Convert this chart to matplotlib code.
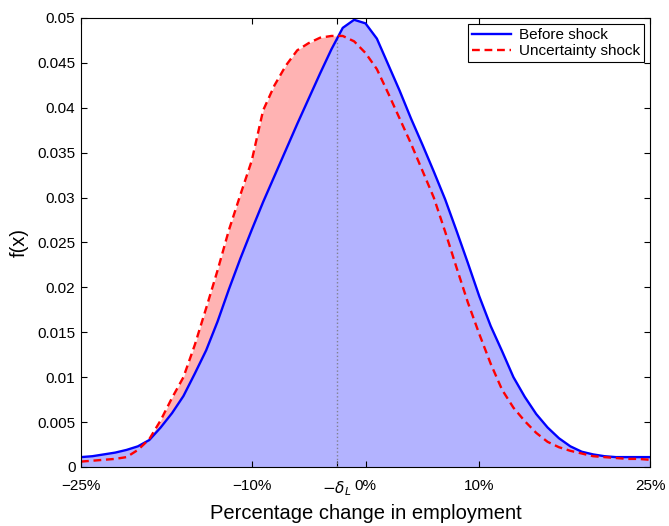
import numpy as np
import matplotlib
matplotlib.use('Agg')
import matplotlib.pyplot as plt

plt.rcParams['font.family'] = ['Liberation Sans', 'DejaVu Sans']

# percentage change in employment
x = np.arange(-25, 26)

before = [0.0011, 0.0012, 0.0014, 0.0016, 0.0019, 0.0023, 0.0030, 0.0044,
          0.0060, 0.0079, 0.0104, 0.0130, 0.0162, 0.0198, 0.0232, 0.0264,
          0.0295, 0.0324, 0.0353, 0.0382, 0.0410, 0.0438, 0.0465, 0.0489,
          0.0498, 0.0494, 0.0477, 0.0448, 0.0419, 0.0388, 0.0359, 0.0329,
          0.0298, 0.0263, 0.0227, 0.0190, 0.0157, 0.0129, 0.0100, 0.0078,
          0.0059, 0.0044, 0.0032, 0.0023, 0.0017, 0.0014, 0.0012, 0.0011,
          0.0011, 0.0011, 0.0011]

shock = [0.0006, 0.0007, 0.0008, 0.0009, 0.0011, 0.0019, 0.0031, 0.0052,
         0.0077, 0.0100, 0.0136, 0.0177, 0.0219, 0.0264, 0.0303, 0.0341,
         0.0397, 0.0425, 0.0447, 0.0464, 0.0472, 0.0478, 0.0480, 0.0480,
         0.0474, 0.0461, 0.0443, 0.0416, 0.0388, 0.0360, 0.0330, 0.0300,
         0.0262, 0.0222, 0.0183, 0.0148, 0.0115, 0.0086, 0.0066, 0.0051,
         0.0038, 0.0028, 0.0022, 0.0018, 0.0015, 0.0012, 0.0011, 0.0010,
         0.0009, 0.0009, 0.0008]

delta_l = -2.5
xticks = [-25, -10, delta_l, 0, 10, 25]
xticklabels = ['\u221225%', '\u221210%', r'$-\delta_L$', '0%', '10%', '25%']
yticks = np.arange(0, 0.0501, 0.005)
yticklabels = ['0', '0.005', '0.01', '0.015', '0.02', '0.025', '0.03',
               '0.035', '0.04', '0.045', '0.05']


def main():
    fig = plt.figure(figsize=(6.69, 5.26), dpi=100)
    ax = fig.add_axes([0.1211, 0.1122, 0.8505, 0.8536])

    b = np.array(before)
    s = np.array(shock)
    ax.fill_between(x, 0, b, color='#b3b3ff', linewidth=0)
    ax.fill_between(x, b, s, where=s > b, interpolate=True,
                    color='#ffb3b3', linewidth=0)
    ax.plot([delta_l, delta_l], [0, 0.048], color='#808090',
            linestyle=':', linewidth=1)
    ax.plot(x, b, color='#0000ff', linewidth=1.7, label='Before shock')
    ax.plot(x, s, color='#ff0000', linewidth=1.7, linestyle='--',
            dashes=(3.3, 2), label='Uncertainty shock')

    ax.set_xlim(-25, 25)
    ax.set_ylim(0, 0.05)
    ax.set_xticks(xticks)
    ax.set_xticklabels(xticklabels)
    ax.set_yticks(yticks)
    ax.set_yticklabels(yticklabels)
    ax.tick_params(direction='in', top=True, right=True, length=4,
                   labelsize=11)
    ax.tick_params(axis='x', pad=9)
    ax.tick_params(axis='y', pad=4)
    ax.set_xlabel('Percentage change in employment', fontsize=14.5,
                  labelpad=4)
    ax.set_ylabel('f(x)', fontsize=14.5, labelpad=6)

    leg = ax.legend(loc='upper right', fontsize=11, fancybox=False,
                    edgecolor='black', framealpha=1, borderaxespad=0.4,
                    handlelength=2.6, handletextpad=0.5, borderpad=0.25,
                    labelspacing=0.15)
    leg.get_frame().set_linewidth(0.8)

    fig.savefig('out.png', dpi=100)


if __name__ == '__main__':
    main()
